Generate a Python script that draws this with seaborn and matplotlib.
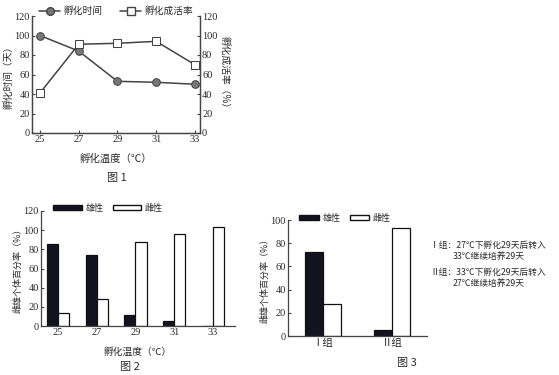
import matplotlib
matplotlib.use("Agg")
import matplotlib.pyplot as plt
import seaborn as sns
import pandas as pd
from matplotlib.lines import Line2D
from matplotlib.patches import Patch

sns.set_style("ticks")
FAM = ['Liberation Serif', 'Noto Sans CJK SC', 'DejaVu Sans']
CJK = ['Noto Sans CJK SC', 'DejaVu Sans']
plt.rcParams['font.family'] = FAM
plt.rcParams['axes.unicode_minus'] = False

# ---- data ----
temps = [25, 27, 29, 31, 33]
hatch_time = [100, 84, 53, 52, 50]
hatch_survival = [41, 91, 92, 94, 70]

fig2_temps = ['25', '27', '29', '31', '33']
fig2_male = [86, 74, 12, 5, 0]
fig2_female = [14, 28, 88, 96, 103]

fig3_groups = ['Ⅰ组', 'Ⅱ组']
fig3_male = [72, 5]
fig3_female = [28, 93]

sex_labels = ['雄性', '雌性']

W, H = 559, 375
TXT = '#2a2a2a'
LC = '#444444'

fig = plt.figure(figsize=(W / 100, H / 100), dpi=100)


def px_axes(x0, y0, x1, y1):
    return fig.add_axes([x0 / W, (H - y1) / H, (x1 - x0) / W, (y1 - y0) / H])


def style(ax, fs=7.5):
    ax.tick_params(direction='in', length=2.5, width=0.8, labelsize=fs, colors=LC,
                   labelcolor=TXT, pad=1.5)
    for s in ax.spines.values():
        s.set_color(LC)
        s.set_linewidth(0.9)


# ---------- Figure 1 ----------
ax1 = px_axes(32, 16, 200, 133)
sns.lineplot(x=temps, y=hatch_time, ax=ax1, color=LC, marker='o', markersize=5.5,
             markerfacecolor='#777777', markeredgecolor=LC, linewidth=1.1)
ax1b = ax1.twinx()
sns.lineplot(x=temps, y=hatch_survival, ax=ax1b, color=LC, marker='s', markersize=6,
             markerfacecolor='white', markeredgecolor=LC, linewidth=1.1)
for a in (ax1, ax1b):
    a.set_ylim(0, 120)
    a.set_yticks(range(0, 121, 20))
    a.set_xlim(24.59, 33.26)
    style(a)
ax1.set_xticks(temps)
ax1.spines['top'].set_visible(False)
ax1b.spines['top'].set_visible(False)
ax1b.spines['right'].set_visible(True)
ax1.set_ylabel('孵化时间（天）', fontsize=7, color=TXT, labelpad=1, family=CJK)
ax1b.set_ylabel('孵化成活率（%）', fontsize=7, color=TXT, rotation=270, labelpad=9, family=CJK)
ax1.set_xlabel('孵化温度（℃）', fontsize=7.5, color=TXT, labelpad=7, family=CJK)
fig.text(117 / W, 1 - 178 / H, '图 1', ha='center', va='center', fontsize=8, color=TXT, family=CJK)
h1 = [Line2D([], [], color=LC, marker='o', markersize=5.5, markerfacecolor='#777777', lw=1.1),
      Line2D([], [], color=LC, marker='s', markersize=6, markerfacecolor='white', lw=1.1)]
fig.legend(h1, ['孵化时间', '孵化成活率'], loc='center', bbox_to_anchor=(116 / W, 1 - 11 / H),
           ncol=2, frameon=False, prop={'family': CJK, 'size': 7}, handlelength=2.2,
           columnspacing=1.8, handletextpad=0.3, labelcolor=TXT)

# ---------- Figure 2 ----------
ax2 = px_axes(41, 211, 235, 326)
df2 = pd.DataFrame({
    'temp': fig2_temps * 2,
    'val': fig2_male + fig2_female,
    'sex': [sex_labels[0]] * len(fig2_temps) + [sex_labels[1]] * len(fig2_temps),
})
sns.barplot(data=df2, x='temp', y='val', hue='sex', order=fig2_temps, hue_order=sex_labels,
            palette=['#111122', 'white'], edgecolor='#111111', linewidth=0.9,
            width=0.57, gap=0, ax=ax2, legend=False)
ax2.set_xlim(-0.44, 4.57)
ax2.set_ylim(0, 120)
ax2.set_yticks(range(0, 121, 20))
style(ax2)
ax2.spines['top'].set_visible(False)
ax2.spines['right'].set_visible(False)
ax2.set_ylabel('雌雄个体百分率（%）', fontsize=6.5, color=TXT, labelpad=1, family=CJK)
ax2.set_xlabel('孵化温度（℃）', fontsize=7, color=TXT, labelpad=7, family=CJK)
fig.text(130 / W, 1 - 367 / H, '图 2', ha='center', va='center', fontsize=8, color=TXT, family=CJK)
h2 = [Patch(facecolor='#111122', edgecolor='#111111'), Patch(facecolor='white', edgecolor='#111111')]
fig.legend(h2, sex_labels, loc='center', bbox_to_anchor=(108 / W, 1 - 208 / H), ncol=2,
           frameon=False, prop={'family': CJK, 'size': 6.5}, handlelength=3.2, handleheight=0.6,
           columnspacing=1.0, handletextpad=0.4, labelcolor=TXT)

# ---------- Figure 3 ----------
ax3 = px_axes(288, 220, 427, 336)
df3 = pd.DataFrame({
    'grp': fig3_groups * 2,
    'val': fig3_male + fig3_female,
    'sex': [sex_labels[0]] * len(fig3_groups) + [sex_labels[1]] * len(fig3_groups),
})
sns.barplot(data=df3, x='grp', y='val', hue='sex', order=fig3_groups, hue_order=sex_labels,
            palette=['#111122', 'white'], edgecolor='#111111', linewidth=0.9,
            width=0.52, gap=0, ax=ax3, legend=False)
ax3.set_xlim(-0.507, 1.507)
ax3.set_ylim(0, 100)
ax3.set_yticks(range(0, 101, 20))
style(ax3)
for lbl in ax3.get_xticklabels():
    lbl.set_family(CJK)
ax3.spines['top'].set_visible(False)
ax3.spines['right'].set_visible(False)
ax3.set_ylabel('雌雄个体百分率（%）', fontsize=6.5, color=TXT, labelpad=1, family=CJK)
ax3.set_xlabel('')
fig.text(407 / W, 1 - 363 / H, '图 3', ha='center', va='center', fontsize=8, color=TXT, family=CJK)
fig.legend(h2, sex_labels, loc='center', bbox_to_anchor=(345 / W, 1 - 218 / H), ncol=2,
           frameon=False, prop={'family': CJK, 'size': 6.5}, handlelength=2.2, handleheight=0.6,
           columnspacing=1.0, handletextpad=0.4, labelcolor=TXT)

note_kw = dict(ha='left', va='center', fontsize=6.3, color=TXT, family=CJK)
fig.text(430 / W, 1 - 245 / H, 'Ⅰ组：27℃下孵化29天后转入', **note_kw)
fig.text(453 / W, 1 - 256 / H, '33℃继续培养29天', **note_kw)
fig.text(430 / W, 1 - 272 / H, 'Ⅱ组：33℃下孵化29天后转入', **note_kw)
fig.text(453 / W, 1 - 283 / H, '27℃继续培养29天', **note_kw)

fig.savefig('out.png', dpi=100)
